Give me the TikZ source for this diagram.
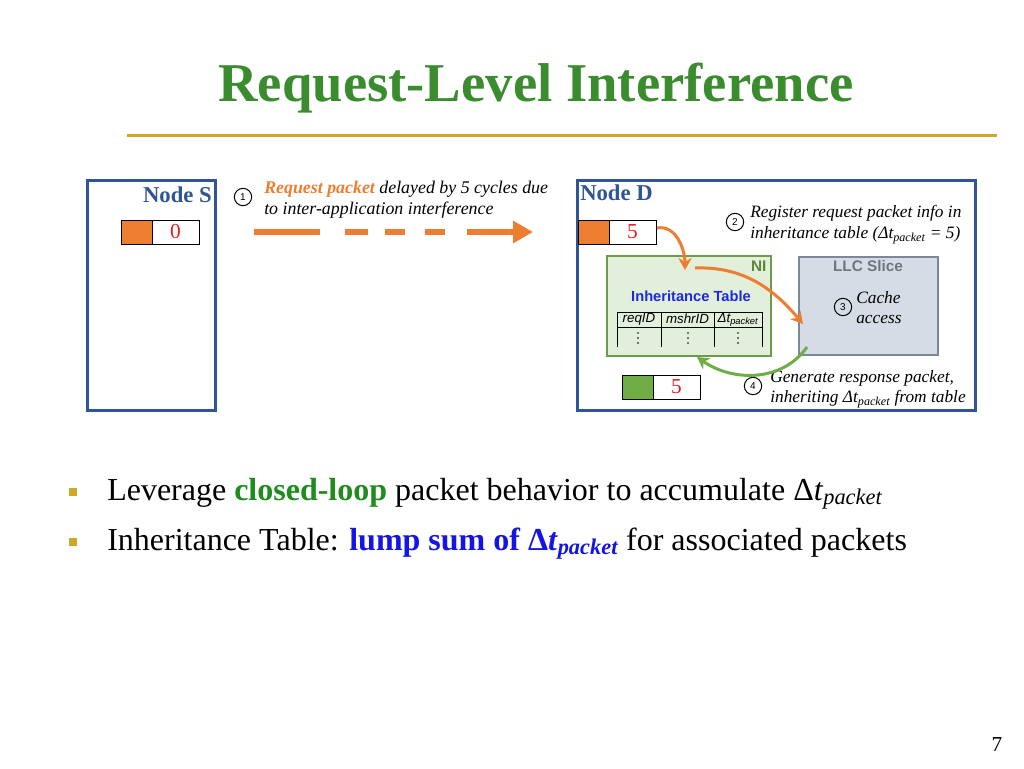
\documentclass[tikz,border=0pt]{standalone}
\usepackage{fontspec}
\setmainfont{Liberation Serif}
\setsansfont{Liberation Sans}
\usetikzlibrary{arrows.meta,positioning}

\definecolor{titlegreen}{RGB}{58,140,46}
\definecolor{rulegold}{RGB}{207,168,40}
\definecolor{nodeblue}{RGB}{47,85,151}
\definecolor{pktorange}{RGB}{237,125,49}
\definecolor{pktgreen}{RGB}{112,173,71}
\definecolor{nifill}{RGB}{226,239,218}
\definecolor{niline}{RGB}{110,155,74}
\definecolor{llcfill}{RGB}{214,220,229}
\definecolor{llcline}{RGB}{124,135,151}
\definecolor{llctext}{RGB}{110,118,130}
\definecolor{tableblue}{RGB}{30,40,220}
\definecolor{loopgreen}{RGB}{30,140,30}
\definecolor{lumpblue}{RGB}{20,20,230}
\definecolor{numred}{RGB}{230,30,30}

\tikzset{
  nodebox/.style={draw=nodeblue, line width=2.25pt, inner sep=0pt, outer sep=0pt,
    anchor=north west, minimum height=172.5pt},
  pkthead/.style={draw=black, line width=0.75pt, inner sep=0pt, outer sep=0pt,
    minimum width=23.25pt, minimum height=18pt, anchor=north west},
  pktbody/.style={draw=black, fill=white, line width=0.75pt, inner sep=0pt, outer sep=0pt,
    minimum width=35.25pt, minimum height=18pt, anchor=west, text=numred,
    font=\fontsize{16}{16}\selectfont},
  stepnum/.style={circle, draw=black, line width=0.75pt, inner sep=0pt,
    minimum size=13pt, font=\sffamily\fontsize{7.5}{8}\selectfont},
  note/.style={anchor=north west, inner sep=0pt, align=left,
    font=\itshape\fontsize{13}{15.5}\selectfont},
  flow/.style={line width=2.25pt, -{Stealth[length=9pt,width=10pt]}},
  bulletmark/.style={fill=rulegold, minimum size=6pt, inner sep=0pt},
  bullettext/.style={anchor=base west, inner sep=0pt, font=\fontsize{24}{28}\selectfont}
}

\begin{document}
\begin{tikzpicture}[x=0.75pt,y=0.75pt]
\useasboundingbox (0,0) rectangle (1024,-768);

% title
\node[anchor=base, text=titlegreen, font=\bfseries\fontsize{41}{49}\selectfont] (title) at (536,-101) {Request-Level Interference};
\draw[rulegold, line width=2.25pt] (127,-135) -- (997,-135);

% node S
\node[nodebox, minimum width=96pt] (nodeS) at (87,-180) {};
\node[anchor=base east, inner sep=0pt, text=nodeblue, font=\bfseries\fontsize{17}{17}\selectfont] (nodeSlabel) at (212,-202) {Node S};
\node[pkthead, fill=pktorange] (pktShead) at (121,-220) {};
\node[pktbody] (pktSbody) at (pktShead.east) {0};

% node D
\node[nodebox, minimum width=298.5pt] (nodeD) at (577,-180) {};
\node[anchor=base west, inner sep=0pt, text=nodeblue, font=\bfseries\fontsize{17}{17}\selectfont] (nodeDlabel) at (580,-200) {Node D};
\node[pkthead, fill=pktorange] (pktDhead) at (578,-220) {};
\node[pktbody] (pktDbody) at (pktDhead.east) {5};

% NI and table
\node[draw=niline, fill=nifill, line width=1.5pt, inner sep=0pt, anchor=north west,
  minimum width=123pt, minimum height=75pt] (ni) at (606,-255) {};
\node[anchor=north east, inner sep=4pt, text=niline!85!black, font=\sffamily\bfseries\fontsize{11.5}{12}\selectfont] (nilabel) at (ni.north east) {NI};
\node[text=tableblue, font=\sffamily\bfseries\fontsize{11}{12}\selectfont] (itlabel) at (691,-296) {Inheritance Table};
\draw[line width=0.75pt] (617,-312) -- (762,-312);
\draw[line width=0.75pt] (617,-327) -- (762,-327);
\foreach \x in {617,661,714,762}
  \draw[line width=0.75pt] (\x,-312) -- (\x,-347);
\node[font=\sffamily\itshape\fontsize{10}{10}\selectfont] (colreq) at (639,-319) {reqID};
\node[font=\sffamily\itshape\fontsize{10}{10}\selectfont] (colmshr) at (687.5,-319) {mshrID};
\node[font=\sffamily\itshape\fontsize{10}{10}\selectfont] (coldt) at (738,-320) {Δt\textsubscript{packet}};
\foreach \x in {638,688,738}
  \foreach \y in {-333,-338,-343}
    \fill (\x,\y) circle (0.7pt);

% LLC slice
\node[draw=llcline, fill=llcfill, line width=1.5pt, inner sep=0pt, anchor=north west,
  minimum width=104.25pt, minimum height=73.5pt] (llc) at (798,-256) {};
\node[text=llctext, font=\sffamily\bfseries\fontsize{11.5}{12}\selectfont] (llclabel) at (868,-266) {LLC Slice};

% response packet
\node[pkthead, fill=pktgreen] (pktRhead) at (622,-375) {};
\node[pktbody] (pktRbody) at (pktRhead.east) {5};

% steps
\node[stepnum] (step1) at (243,-197) {1};
\node[note, font=\itshape\fontsize{13.4}{15.5}\selectfont] (note1) at (264,-181) {{\bfseries\color{pktorange}Request packet} delayed by 5 cycles due\\to inter-application interference};
\node[stepnum] (step2) at (735,-222) {2};
\node[note] (note2) at (750,-205) {Register request packet info in\\inheritance table (Δt\textsubscript{packet} = 5)};
\node[stepnum] (step3) at (843,-307) {3};
\node[note] (note3) at (856,-291) {Cache\\access};
\node[stepnum] (step4) at (753,-386) {4};
\node[note] (note4) at (770,-370) {Generate response packet,\\inheriting Δt\textsubscript{packet} from table};

% connectors
\coordinate (dashstart) at (254,-232);
\coordinate (dashend) at (533,-232);
\draw[pktorange, line width=4.5pt, dash pattern=on 49.5pt off 18.75pt on 17.25pt off 12.75pt on 15pt off 15pt on 15pt off 16.5pt on 100pt,
  -{Triangle[length=15pt,width=16pt]}] (dashstart) -- (dashend);
\coordinate (niin) at (685,-270);
\coordinate (niout) at (695,-268);
\coordinate (llcin) at (803,-324);
\coordinate (llcout) at (807,-347);
\coordinate (niback) at (697,-357);
\draw[flow, pktorange] (pktDbody.east) ++(1,4) to[out=10, in=90] (niin);
\draw[flow, pktorange] (niout) to[out=2, in=130] (llcin);
\draw[flow, pktgreen] (llcout) to[out=-125, in=-35] (niback);

% bullets
\node[bulletmark] (mark1) at (73,-492) {};
\node[bullettext] (bullet1) at (107,-500) {Leverage \textbf{\color{loopgreen}closed-loop} packet behavior to accumulate Δ\textit{t}\textsubscript{\itshape packet}};
\node[bulletmark] (mark2) at (73,-542) {};
\node[bullettext] (bullet2) at (107,-550) {Inheritance Table: \textbf{\color{lumpblue}lump sum of Δ\textit{t}\textsubscript{\itshape packet}} for associated packets};

% page number
\node[font=\fontsize{16}{16}\selectfont] (pagenum) at (997,-745) {7};
\end{tikzpicture}
\end{document}
